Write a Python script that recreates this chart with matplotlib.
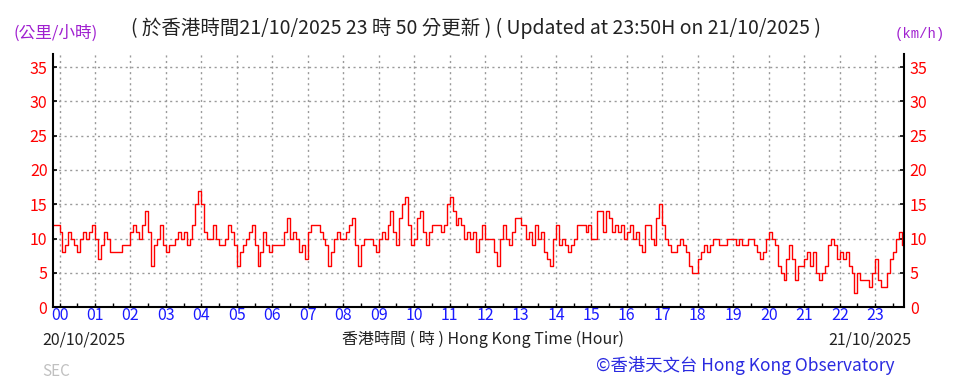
import numpy as np
import matplotlib.pyplot as plt
from matplotlib.ticker import MultipleLocator

plt.rcParams["font.family"] = ["Noto Sans CJK TC", "DejaVu Sans"]

# 10-min mean wind speed (km/h), sampled every 5 minutes from 20/10 23:50 to 21/10 23:50
start_hour = -10 / 60
speed_kmh = (
    [12, 12]                                          # 23:50, 23:55
    + [11, 8, 9, 11, 10, 9, 8, 10, 11, 10, 11, 12]    # 00
    + [10, 7, 9, 11, 10, 8, 8, 8, 8, 9, 9, 9]         # 01
    + [11, 12, 11, 10, 12, 14, 11, 6, 9, 10, 12, 9]   # 02
    + [8, 9, 9, 10, 11, 10, 11, 9, 10, 12, 15, 17]    # 03
    + [15, 11, 10, 10, 12, 10, 9, 9, 10, 12, 11, 9]   # 04
    + [6, 8, 9, 10, 11, 12, 9, 6, 8, 11, 9, 8]        # 05
    + [9, 9, 9, 9, 11, 13, 10, 11, 10, 8, 9, 7]       # 06
    + [11, 12, 12, 12, 11, 10, 9, 6, 8, 10, 11, 10]   # 07
    + [10, 11, 12, 13, 9, 6, 9, 10, 10, 10, 9, 8]     # 08
    + [10, 11, 10, 12, 14, 11, 9, 13, 15, 16, 12, 9]  # 09
    + [10, 13, 14, 11, 9, 11, 12, 12, 12, 11, 12, 15] # 10
    + [16, 14, 12, 13, 12, 10, 11, 10, 11, 8, 10, 12] # 11
    + [10, 10, 10, 8, 6, 10, 12, 10, 9, 11, 13, 13]   # 12
    + [12, 12, 10, 11, 9, 12, 10, 11, 8, 7, 6, 10]    # 13
    + [12, 9, 10, 9, 8, 9, 10, 12, 12, 12, 11, 12]    # 14
    + [10, 10, 14, 14, 11, 14, 13, 11, 12, 11, 12, 10] # 15
    + [11, 12, 10, 11, 9, 8, 12, 12, 10, 9, 13, 15]   # 16
    + [12, 10, 9, 8, 8, 9, 10, 9, 8, 6, 5, 5]         # 17
    + [7, 8, 9, 8, 9, 10, 10, 9, 9, 9, 10, 10]        # 18
    + [10, 9, 10, 9, 9, 10, 10, 9, 8, 7, 8, 10]       # 19
    + [11, 10, 9, 6, 5, 4, 7, 9, 7, 4, 6, 6]          # 20
    + [7, 8, 6, 8, 5, 4, 5, 6, 9, 10, 9, 7]           # 21
    + [8, 7, 8, 6, 5, 2, 5, 4, 4, 4, 3, 5]            # 22
    + [7, 4, 3, 3, 5, 7, 8, 10, 11, 9, 9]             # 23 (to 23:50)
)
hour_labels = [f"{h:02d}" for h in range(24)]
y_ticks = [0, 5, 10, 15, 20, 25, 30, 35]

hours = start_hour + np.arange(len(speed_kmh)) / 12

fig = plt.figure(figsize=(9.64, 3.81), dpi=100)
ax = fig.add_axes([0.055, 0.194, 0.883, 0.664])

ax.plot(hours, speed_kmh, color="#ff0000", linewidth=1.0, drawstyle="steps-post")

ax.set_xlim(-0.183, 23.82)
ax.set_ylim(0, 36.9)
ax.set_xticks(range(24))
ax.set_xticklabels(hour_labels, color="#1a1aff", fontsize=11.5)
ax.xaxis.set_minor_locator(MultipleLocator(0.5))
ax.set_yticks(y_ticks)
ax.tick_params(axis="x", which="both", direction="in", length=3, width=1, pad=0)
ax.tick_params(axis="y", direction="in", length=3, width=1.2, pad=4,
               labelcolor="#ff0000", labelsize=11.5, left=True, right=True,
               labelleft=True, labelright=True)

ax.grid(True, color="#9a9a9a", linestyle=(0, (1.5, 2.5)), linewidth=1)
ax.spines["top"].set_visible(False)
for s in ["left", "right", "bottom"]:
    ax.spines[s].set_linewidth(1.5)

fig.text(0.058, 0.912, "(公里/小時)", color="#a020d0", fontsize=12, ha="center", va="center")
fig.text(0.954, 0.912, "(km/h)", color="#a020d0", fontsize=10, ha="center", va="center",
         family="Liberation Mono")
fig.text(0.494, 0.927,
         "( 於香港時間21/10/2025 23 時 50 分更新 ) ( Updated at 23:50H on 21/10/2025 )",
         color="#222222", fontsize=14, ha="center", va="center")

fig.text(0.044, 0.108, "20/10/2025", color="#222222", fontsize=11.5, ha="left", va="center")
fig.text(0.501, 0.108, "香港時間 ( 時 ) Hong Kong Time (Hour)", color="#222222",
         fontsize=11.5, ha="center", va="center")
fig.text(0.945, 0.108, "21/10/2025", color="#222222", fontsize=11.5, ha="right", va="center")
fig.text(0.044, 0.026, "SEC", color="#c0c0c0", fontsize=11, ha="left", va="center")
fig.text(0.928, 0.04, "©香港天文台 Hong Kong Observatory", color="#2a2ae0",
         fontsize=12.5, ha="right", va="center")

fig.savefig("out.png", dpi=100)
